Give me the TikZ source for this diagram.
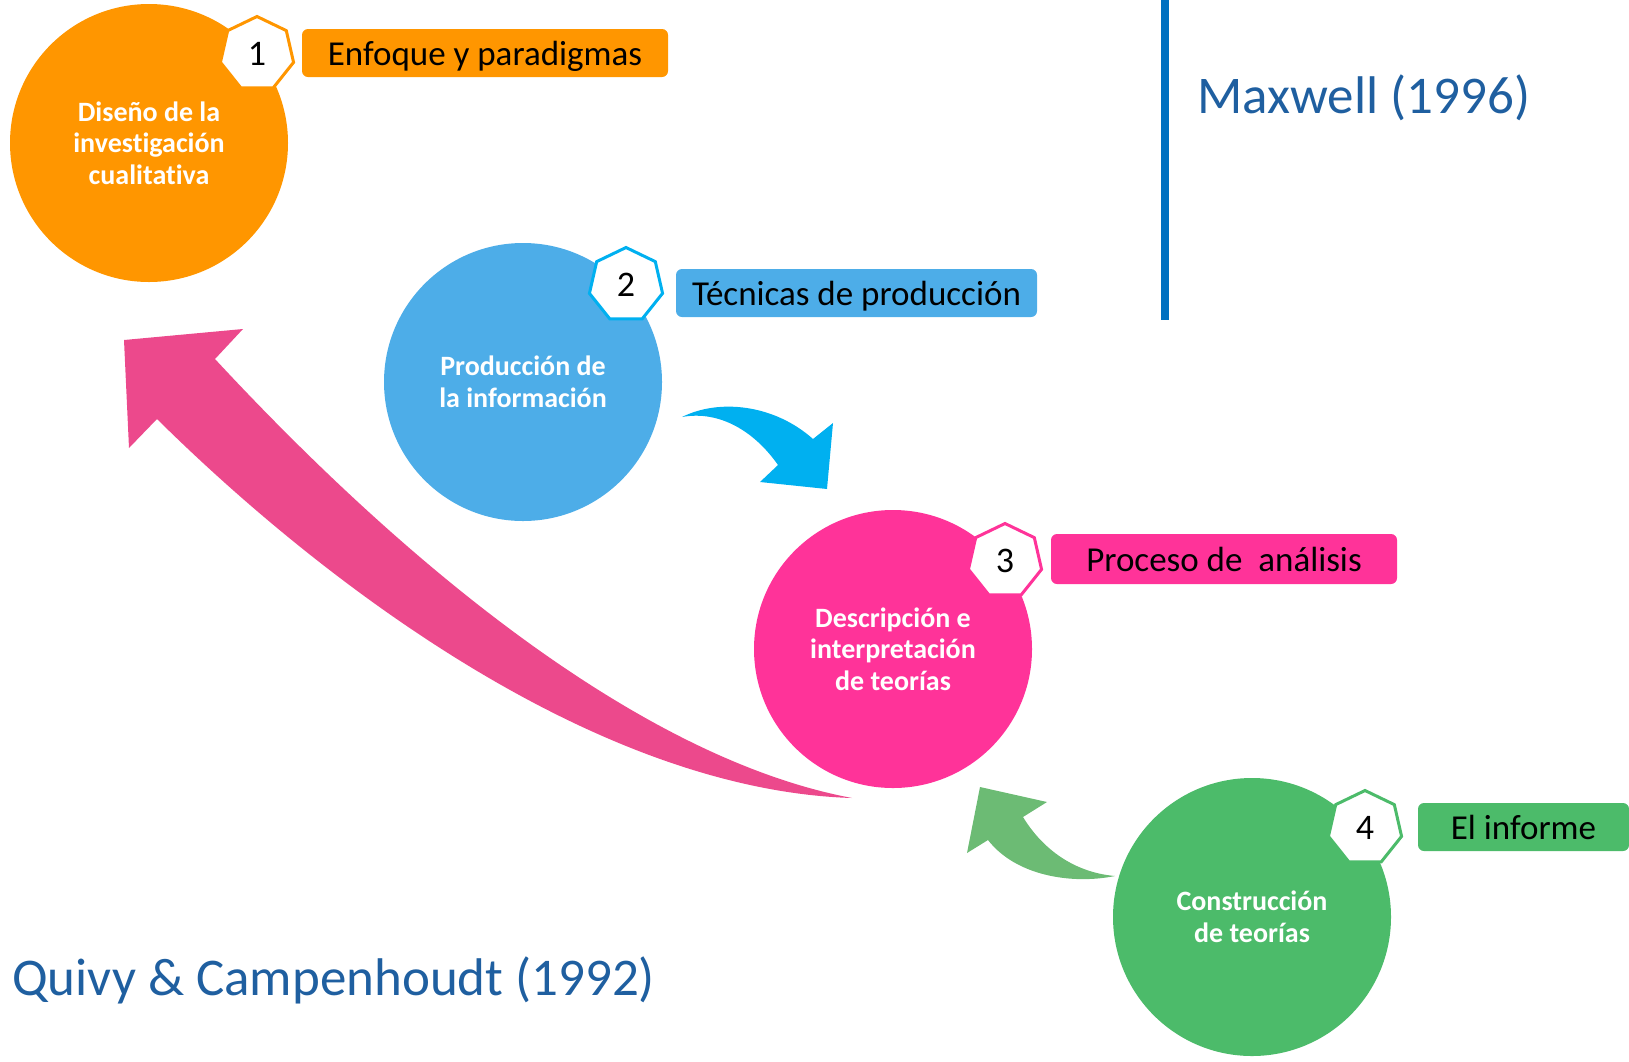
\documentclass[tikz,border=0pt]{standalone}
\usepackage{fontspec}
\setmainfont{Carlito}[Ligatures={NoCommon}]
\usetikzlibrary{shapes.geometric}
\definecolor{c1}{HTML}{FF9600}
\definecolor{c2}{HTML}{4DADE8}
\definecolor{c2line}{HTML}{00B0F0}
\definecolor{c3}{HTML}{FF3399}
\definecolor{c4}{HTML}{4CBB6A}
\definecolor{pinkarrow}{HTML}{EC498C}
\definecolor{bluearrow}{HTML}{00B0F0}
\definecolor{greenarrow}{HTML}{6CBB74}
\definecolor{citeblue}{HTML}{1F5FA0}
\definecolor{vline}{HTML}{0070C0}
\begin{document}
\begin{tikzpicture}[x=1pt,y=-1pt,
  bigcirc/.style={circle, minimum size=278pt, inner sep=0pt, text=white,
    font=\fontsize{28}{31.5}\selectfont\bfseries, align=center},
  hept/.style={regular polygon, regular polygon sides=7, minimum size=75pt,
    inner sep=0pt, fill=white, line width=3pt, font=\fontsize{36}{40}\selectfont},
  lab/.style={rounded corners=6pt, minimum height=48pt, inner sep=0pt,
    text height=32pt, text depth=8pt,
    font=\fontsize{35}{42}\selectfont, text=black},
  cite/.style={text=citeblue, font=\fontsize{53}{64}\selectfont, inner sep=0pt, anchor=base west}]
\useasboundingbox (0,0) rectangle (1629,1061);

% arrows
\fill[pinkarrow] (852,798) .. controls (650,760) and (420,580) .. (215,359)
  -- (243,329) -- (124,340) -- (129,448) -- (157,419)
  .. controls (330,590) and (600,790) .. (852,798) -- cycle;
\fill[bluearrow] (682,417) .. controls (720,398) and (775,405) .. (813,439)
  -- (833,423) -- (827,489) -- (760,482) -- (778,465)
  .. controls (755,432) and (720,410) .. (682,417) -- cycle;
\fill[greenarrow] (1115,876) .. controls (1070,872) and (1040,845) .. (1023,817)
  -- (1047,802) -- (980,787) -- (967,853) -- (988,840)
  .. controls (1015,875) and (1070,885) .. (1115,876) -- cycle;

% circles
\node[bigcirc, fill=c1] (k1) at (149,143) {Diseño de la\\investigación\\cualitativa};
\node[bigcirc, fill=c2] (k2) at (523,382) {Producción de\\la información};
\node[bigcirc, fill=c3] (k3) at (893,649) {Descripción e\\interpretación\\de teorías};
\node[bigcirc, fill=c4] (k4) at (1252,917) {Construcción\\de teorías};

% heptagons
\node[hept, draw=c1] (h1) at (257,54) {1};
\node[hept, draw=c2line] (h2) at (626,285) {2};
\node[hept, draw=c3] (h3) at (1005,561) {3};
\node[hept, draw=c4] (h4) at (1365,828) {4};

% labels
\node[lab, fill=c1, minimum width=366pt] (l1) at (485,53) {Enfoque y paradigmas};
\node[lab, fill=c2, minimum width=361pt] (l2) at (856.5,293) {Técnicas de producción};
\node[lab, fill=c3, minimum width=346pt, minimum height=50pt] (l3) at (1224,559) {Proceso de\ \ análisis};
\node[lab, fill=c4, minimum width=211pt] (l4) at (1523.5,827) {El informe};

% vertical line and citations
\coordinate (vtop) at (1165,0);
\coordinate (vbot) at (1165,320);
\draw[vline, line width=8pt] (vtop) -- (vbot);
\node[cite] (maxwell) at (1197,113) {Maxwell (1996)};
\node[cite] (quivy) at (12,995) {Quivy \& Campenhoudt (1992)};
\end{tikzpicture}
\end{document}
